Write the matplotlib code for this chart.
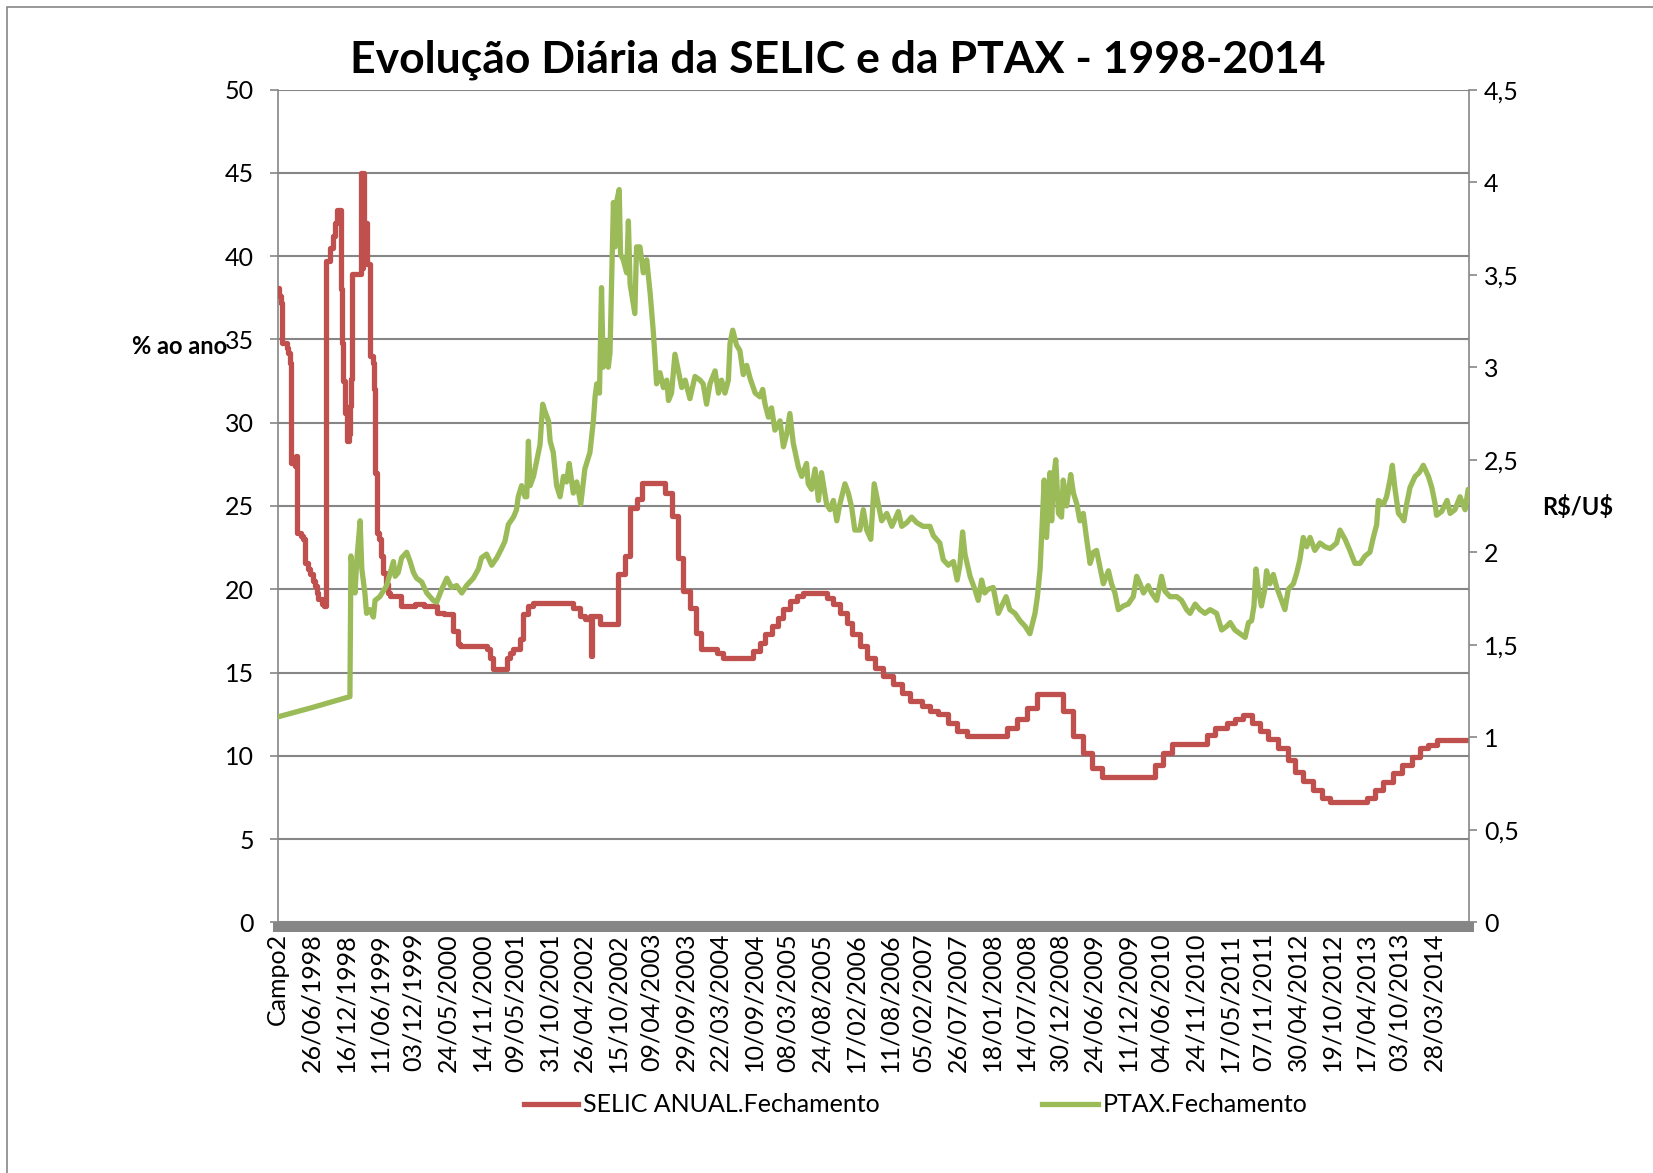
import matplotlib
matplotlib.use("Agg")
import matplotlib.pyplot as plt
from matplotlib.lines import Line2D
from matplotlib.patches import Rectangle

# category labels shown under the x axis (one every ~120 business days)
date_labels = ["Campo2", "26/06/1998", "16/12/1998", "11/06/1999", "03/12/1999",
               "24/05/2000", "14/11/2000", "09/05/2001", "31/10/2001", "26/04/2002",
               "15/10/2002", "09/04/2003", "29/09/2003", "22/03/2004", "10/09/2004",
               "08/03/2005", "24/08/2005", "17/02/2006", "11/08/2006", "05/02/2007",
               "26/07/2007", "18/01/2008", "14/07/2008", "30/12/2008", "24/06/2009",
               "11/12/2009", "04/06/2010", "24/11/2010", "17/05/2011", "07/11/2011",
               "30/04/2012", "19/10/2012", "17/04/2013", "03/10/2013", "28/03/2014"]

# SELIC (% a.a.) - position in label steps where a new rate starts, and the rate
selic_x = [0.00, 0.05, 0.10, 0.13, 0.27, 0.32, 0.37, 0.39, 0.51, 0.54, 0.58, 0.70, 0.76,
           0.81, 0.90, 0.96, 1.03, 1.10, 1.15, 1.20, 1.30, 1.36, 1.44, 1.55, 1.62, 1.70,
           1.76, 1.86, 1.89, 1.94, 1.99, 2.05, 2.11, 2.14, 2.16, 2.20, 2.45, 2.49, 2.51,
           2.55, 2.60, 2.63, 2.72, 2.80, 2.83, 2.87, 2.92, 2.99, 3.03, 3.11, 3.20, 3.26,
           3.30, 3.62, 4.05, 4.30, 4.68, 4.90, 5.17, 5.32, 5.37, 6.15, 6.25, 6.35, 6.74,
           6.85, 6.94, 7.13, 7.23, 7.38, 7.52, 8.70, 8.90, 9.04, 9.20, 9.22, 9.24, 9.50,
           10.02, 10.21, 10.38, 10.56, 10.71, 11.39, 11.61, 11.78, 11.93, 12.14, 12.32,
           12.47, 12.92, 13.11, 14.00, 14.19, 14.34, 14.53, 14.73, 14.88, 15.07, 15.27,
           15.46, 16.15, 16.35, 16.54, 16.74, 16.89, 17.13, 17.33, 17.57, 17.82, 18.11,
           18.36, 18.60, 18.95, 19.19, 19.44, 19.73, 19.98, 20.27, 21.47, 21.74, 22.04,
           22.33, 23.11, 23.41, 23.70, 23.95, 24.24, 25.81, 26.05, 26.30, 27.33, 27.57,
           27.92, 28.16, 28.41, 28.65, 28.90, 29.14, 29.44, 29.73, 29.93, 30.17, 30.46,
           30.71, 30.96, 32.04, 32.28, 32.52, 32.82, 33.06, 33.36, 33.60, 33.85, 34.09,
           35.02]
selic_y = [38.1, 37.6, 37.2, 34.8, 34.5, 34.2, 33.6, 27.6, 27.4, 28.0, 23.4, 23.2, 23.0,
           21.6, 21.2, 20.9, 20.5, 20.2, 19.8, 19.4, 19.1, 19.0, 39.7, 40.5, 41.2, 42.0,
           42.8, 38.0, 34.8, 32.5, 30.6, 28.9, 29.3, 31.0, 32.6, 38.9, 45.0, 39.3, 45.0,
           39.6, 42.0, 39.5, 34.0, 33.6, 32.0, 27.0, 23.4, 23.0, 22.0, 21.0, 20.3, 19.8,
           19.6, 19.0, 19.1, 19.0, 18.6, 18.5, 17.5, 16.7, 16.6, 16.4, 15.9, 15.2, 15.9,
           16.2, 16.4, 17.0, 18.5, 19.0, 19.2, 18.9, 18.4, 18.2, 18.4, 16.0, 18.4, 17.9,
           20.9, 22.0, 24.9, 25.4, 26.4, 25.8, 24.4, 21.9, 19.9, 18.9, 17.4,
           16.4, 16.2, 15.9, 16.3, 16.8, 17.3, 17.8, 18.3, 18.8, 19.3, 19.6,
           19.8, 19.5, 19.1, 18.6, 18.0, 17.3, 16.6, 15.9, 15.3, 14.8, 14.3,
           13.8, 13.3, 13.0, 12.7, 12.5, 12.0, 11.5, 11.2, 11.7, 12.2, 12.9,
           13.7, 12.7, 11.2, 10.2, 9.25, 8.7, 9.45, 10.2, 10.7, 11.25, 11.7,
           12.0, 12.2, 12.45, 12.0, 11.5, 11.0, 10.5, 9.75, 9.0, 8.5, 7.95,
           7.45, 7.2, 7.45, 7.95, 8.45, 8.95, 9.45, 9.95, 10.45, 10.65, 10.95,
           10.95]

# PTAX (R$/US$) closing rate
ptax_x = [0.00, 1.00, 2.13, 2.16, 2.28, 2.33, 2.43, 2.48, 2.57, 2.62, 2.72, 2.82, 2.87,
          3.01, 3.21, 3.41, 3.46, 3.55, 3.65, 3.80, 3.90, 4.00, 4.09, 4.24, 4.39, 4.58,
          4.68, 4.83, 4.98, 5.12, 5.27, 5.42, 5.56, 5.76, 5.91, 6.00, 6.15, 6.30, 6.45,
          6.59, 6.69, 6.79, 6.94, 7.03, 7.08, 7.18, 7.28, 7.33, 7.38, 7.43, 7.53, 7.62,
          7.72, 7.80, 7.87, 7.97, 8.02, 8.11, 8.21, 8.31, 8.41, 8.50, 8.58, 8.70, 8.80,
          8.92, 9.04, 9.19, 9.29, 9.34, 9.39, 9.47, 9.53, 9.58, 9.68, 9.73, 9.78, 9.88,
          9.93, 9.98, 10.05, 10.09, 10.17, 10.27, 10.32, 10.37, 10.51, 10.56, 10.66,
          10.76, 10.86, 10.96, 11.05, 11.10, 11.15, 11.25, 11.35, 11.45, 11.50, 11.59,
          11.69, 11.79, 11.89, 11.99, 12.13, 12.28, 12.43, 12.52, 12.62, 12.72, 12.87,
          12.97, 13.06, 13.16, 13.26, 13.31, 13.39, 13.50, 13.60, 13.70, 13.80, 13.90,
          14.05, 14.19, 14.27, 14.34, 14.44, 14.53, 14.63, 14.78, 14.88, 14.98, 15.07,
          15.17, 15.32, 15.42, 15.56, 15.61, 15.71, 15.81, 15.91, 16.00, 16.15, 16.25,
          16.35, 16.45, 16.54, 16.69, 16.79, 16.89, 16.98, 17.13, 17.23, 17.33, 17.45,
          17.55, 17.67, 17.77, 17.92, 18.07, 18.26, 18.36, 18.51, 18.65, 18.80, 18.99,
          19.19, 19.29, 19.48, 19.58, 19.73, 19.88, 19.99, 20.07, 20.15, 20.22, 20.37,
          20.51, 20.61, 20.71, 20.80, 20.90, 21.05, 21.20, 21.30, 21.43, 21.54, 21.69,
          21.84, 21.99, 22.13, 22.28, 22.35, 22.43, 22.50, 22.55, 22.62, 22.72, 22.77,
          22.82, 22.89, 22.97, 23.06, 23.11, 23.21, 23.33, 23.41, 23.51, 23.60, 23.70,
          23.80, 23.90, 24.00, 24.09, 24.19, 24.29, 24.44, 24.53, 24.63, 24.73, 24.88,
          25.02, 25.17, 25.27, 25.37, 25.47, 25.61, 25.71, 25.86, 26.00, 26.10, 26.25,
          26.45, 26.59, 26.74, 26.84, 26.99, 27.13, 27.28, 27.43, 27.62, 27.77, 27.92,
          28.02, 28.16, 28.31, 28.46, 28.56, 28.65, 28.72, 28.78, 28.85, 28.94, 29.04,
          29.09, 29.19, 29.29, 29.39, 29.53, 29.63, 29.73, 29.88, 29.98, 30.07, 30.17,
          30.27, 30.37, 30.51, 30.66, 30.81, 30.96, 31.15, 31.25, 31.40, 31.54, 31.69,
          31.84, 31.99, 32.13, 32.23, 32.33, 32.38, 32.53, 32.62, 32.72, 32.79, 32.87,
          32.97, 33.06, 33.13, 33.21, 33.31, 33.46, 33.58, 33.70, 33.85, 33.95, 34.05,
          34.09, 34.24, 34.40, 34.49, 34.63, 34.78, 34.93, 35.02]
ptax_y = [1.11, 1.16, 1.22, 1.98, 1.78, 1.95, 2.17, 1.91, 1.78, 1.67, 1.69, 1.65, 1.74,
          1.76, 1.82, 1.95, 1.87, 1.89, 1.97, 2.00, 1.95, 1.89, 1.86, 1.84, 1.78, 1.74,
          1.73, 1.80, 1.86, 1.81, 1.82, 1.78, 1.82, 1.86, 1.91, 1.97, 1.99, 1.93, 1.97,
          2.02, 2.06, 2.15, 2.19, 2.23, 2.30, 2.36, 2.30, 2.30, 2.60, 2.36, 2.41, 2.49,
          2.58, 2.80, 2.76, 2.71, 2.60, 2.54, 2.36, 2.30, 2.41, 2.38, 2.48, 2.32, 2.38,
          2.26, 2.45, 2.54, 2.71, 2.84, 2.91, 2.86, 3.43, 3.00, 3.14, 3.00, 3.08, 3.89,
          3.65, 3.90, 3.96, 3.61, 3.58, 3.51, 3.79, 3.45, 3.29, 3.65, 3.65,
          3.51, 3.58, 3.40, 3.20, 3.06, 2.91, 2.97, 2.89, 2.93, 2.82, 2.86,
          3.07, 2.98, 2.89, 2.93, 2.83, 2.95, 2.93, 2.91, 2.80, 2.91, 2.98,
          2.86, 2.93, 2.86, 2.93, 3.13, 3.20, 3.12, 3.09, 2.96, 3.01, 2.94,
          2.86, 2.84, 2.88, 2.80, 2.73, 2.78, 2.66, 2.71, 2.57, 2.64, 2.75,
          2.59, 2.46, 2.41, 2.48, 2.37, 2.34, 2.45, 2.28, 2.43, 2.26, 2.23,
          2.28, 2.17, 2.26, 2.37, 2.32, 2.24, 2.12, 2.12, 2.23, 2.12, 2.07,
          2.37, 2.26, 2.17, 2.21, 2.14, 2.22, 2.14, 2.16, 2.19, 2.16, 2.14,
          2.14, 2.09, 2.05, 1.96, 1.93, 1.95, 1.85, 1.93, 2.11, 1.99, 1.87,
          1.80, 1.74, 1.85, 1.78, 1.80, 1.81, 1.67, 1.71, 1.76, 1.69, 1.67,
          1.63, 1.60, 1.56, 1.67, 1.76, 1.91, 2.19, 2.39, 2.08, 2.43, 2.17,
          2.39, 2.50, 2.21, 2.19, 2.39, 2.25, 2.42, 2.32, 2.26, 2.17, 2.21,
          2.07, 1.94, 2.00, 2.01, 1.92, 1.83, 1.90, 1.83, 1.78, 1.69, 1.71,
          1.72, 1.76, 1.87, 1.83, 1.78, 1.82, 1.78, 1.74, 1.87, 1.79, 1.76,
          1.76, 1.74, 1.69, 1.67, 1.72, 1.69, 1.67, 1.69, 1.67, 1.58, 1.60,
          1.62, 1.58, 1.56, 1.54, 1.62, 1.63, 1.71, 1.91, 1.80, 1.71, 1.80,
          1.90, 1.83, 1.88, 1.81, 1.74, 1.69, 1.80, 1.83, 1.89, 1.96, 2.08,
          2.03, 2.08, 2.01, 2.05, 2.03, 2.02, 2.05, 2.12, 2.07, 2.01, 1.94,
          1.94, 1.98, 2.00, 2.08, 2.15, 2.28, 2.26, 2.30, 2.39, 2.47, 2.34,
          2.21, 2.19, 2.17, 2.26, 2.35, 2.41, 2.43, 2.47, 2.41, 2.35, 2.26,
          2.20, 2.22, 2.28, 2.21, 2.23, 2.30, 2.23, 2.34]

left_ticks = [0, 5, 10, 15, 20, 25, 30, 35, 40, 45, 50]
right_ticks = [0, 0.5, 1, 1.5, 2, 2.5, 3, 3.5, 4, 4.5]
right_labels = ["0", "0,5", "1", "1,5", "2", "2,5", "3", "3,5", "4", "4,5"]

RED = "#C0504D"
GREEN = "#9BBB59"
GREY = "#868686"

plt.rcParams["font.family"] = ["Lato", "DejaVu Sans"]

W, H = 1653, 1173
fig = plt.figure(figsize=(W / 100, H / 100), dpi=100)
ax = fig.add_axes([277.5 / W, 1 - 922.4 / H, 1191 / W, 832.8 / H])

# spines first: moving a spine resets the tick objects
ax.spines["top"].set_visible(False)
ax.spines["right"].set_visible(False)
ax.spines["left"].set_color(GREY)
ax.spines["left"].set_linewidth(1.2)
ax.spines["bottom"].set_color(GREY)
ax.spines["bottom"].set_linewidth(7.2)
ax.spines["bottom"].set_position(("outward", 3.6))

ax.plot(selic_x, selic_y, drawstyle="steps-post", color=RED, lw=3.8,
        solid_joinstyle="round", solid_capstyle="round", zorder=3)
ax.set_xlim(0, 35.03)
ax.set_ylim(0, 50)
ax.set_yticks(left_ticks)
ax.yaxis.grid(True, color=GREY, lw=1.5)
ax.set_axisbelow(True)
ax.tick_params(axis="y", direction="out", length=6, width=1.2, color=GREY,
               labelsize=18, pad=11)
ax.set_xticks(range(len(date_labels)))
ax.set_xticklabels(date_labels, rotation=90, fontsize=18, va="top", ha="center")
ax.tick_params(axis="x", length=0, pad=4)

ax2 = ax.twinx()
ax2.plot(ptax_x, ptax_y, color=GREEN, lw=3.8,
         solid_joinstyle="round", solid_capstyle="round", zorder=3)
ax2.set_ylim(0, 4.5)
ax2.set_yticks(right_ticks)
ax2.set_yticklabels(right_labels)
ax2.tick_params(axis="y", direction="out", length=6, width=1.2, color=GREY,
                labelsize=18, pad=5)
for s in ["top", "left", "bottom"]:
    ax2.spines[s].set_visible(False)
ax2.spines["right"].set_color(GREY)
ax2.spines["right"].set_linewidth(1.2)

# title and axis labels
fig.text(838 / W, 1 - 60 / H, "Evolução Diária da SELIC e da PTAX - 1998-2014",
         ha="center", va="center", fontsize=32, fontweight="bold")
fig.text(132 / W, 1 - 346 / H, "% ao ano", ha="left", va="center",
         fontsize=17, fontweight="bold")
fig.text(1542 / W, 1 - 507 / H, r"R\$/U\$", ha="left", va="center",
         fontsize=17, fontweight="bold")

# legend drawn at the bottom
ly = 1 - 1104 / H
fig.add_artist(Line2D([524 / W, 578 / W], [ly, ly], color=RED, lw=3.8,
                      transform=fig.transFigure))
fig.text(583 / W, ly, "SELIC ANUAL.Fechamento", ha="left", va="center", fontsize=18)
fig.add_artist(Line2D([1042 / W, 1098 / W], [ly, ly], color=GREEN, lw=3.8,
                      transform=fig.transFigure))
fig.text(1103 / W, ly, "PTAX.Fechamento", ha="left", va="center", fontsize=18)

# chart area border (cut by the image on the right and bottom)
fig.add_artist(Rectangle((7 / W, -0.1), 1.2, 1.1 - 7 / H, transform=fig.transFigure,
                         fill=False, edgecolor=GREY, lw=1.2))

fig.savefig("out.png", dpi=100)
